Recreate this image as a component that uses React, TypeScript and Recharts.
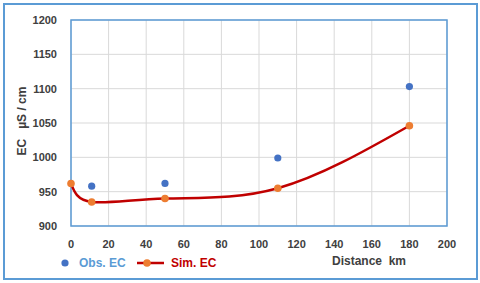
import React from "react";
import {
  ComposedChart,
  Line,
  Scatter,
  XAxis,
  YAxis,
  CartesianGrid,
  ReferenceArea,
  Label,
} from "recharts";

// observed EC (points only)
const obsDistance = [11, 50, 110, 180];
const obsEC = [958, 962, 999, 1103];

// simulated EC (smoothed line + markers)
const simDistance = [0, 11, 50, 110, 180];
const simEC = [962, 935, 940, 955, 1046];

const xTicks = [0, 20, 40, 60, 80, 100, 120, 140, 160, 180, 200];
const yTicks = [900, 950, 1000, 1050, 1100, 1150, 1200];

const FONT = "'Liberation Sans Narrow', 'Liberation Sans', Arial, sans-serif";
const BLUE_BORDER = "#5b9bd5";
const NB = "\u00a0";

const obsData = obsDistance.map((x, i) => ({ x, y: obsEC[i] }));
const simData = simDistance.map((x, i) => ({ x, y: simEC[i] }));

const tickStyle = { fontSize: 11, fontWeight: 700, fill: "#404040", fontFamily: FONT };

const ObsDot = (props: any) => (
  <circle cx={props.cx} cy={props.cy} r={3.6} fill="#4472c4" />
);

export default function App() {
  return (
    <div
      style={{
        position: "fixed",
        left: 0,
        top: 0,
        width: 480,
        height: 283,
        background: "#fff",
        fontFamily: FONT,
      }}
    >
      {/* outer frame */}
      <div
        style={{
          position: "absolute",
          left: 3,
          top: 3,
          width: 471,
          height: 273,
          border: `2px solid ${BLUE_BORDER}`,
        }}
      />

      <ComposedChart
        width={480}
        height={283}
        margin={{ top: 20, right: 33, bottom: 12, left: 21 }}
        style={{ position: "absolute", left: 0, top: 0 }}
      >
        <CartesianGrid stroke="#d9d9d9" strokeWidth={1} />
        <XAxis
          type="number"
          dataKey="x"
          domain={[0, 200]}
          ticks={xTicks}
          axisLine={false}
          tickLine={false}
          tick={tickStyle}
          tickMargin={8}
          height={45}
          allowDuplicatedCategory={false}
        >
          <Label
            value={`Distance${NB}${NB}km`}
            position="insideBottom"
            dx={110}
            offset={6}
            style={{ fontSize: 12, fontWeight: 700, fill: "#404040", fontFamily: FONT }}
          />
        </XAxis>
        <YAxis
          type="number"
          dataKey="y"
          domain={[900, 1200]}
          ticks={yTicks}
          axisLine={false}
          tickLine={false}
          tick={tickStyle}
          tickMargin={8}
          width={50}
        >
          <Label
            value={`EC${NB}${NB}${NB}µS${NB}/${NB}cm`}
            angle={-90}
            position="insideLeft"
            dx={-4}
            dy={-2}
            style={{
              fontSize: 12,
              fontWeight: 700,
              fill: "#404040",
              fontFamily: FONT,
              textAnchor: "middle",
            }}
          />
        </YAxis>
        <ReferenceArea
          x1={0}
          x2={200}
          y1={900}
          y2={1200}
          fill="none"
          stroke={BLUE_BORDER}
          strokeWidth={1.5}
          ifOverflow="visible"
        />
        <Line
          data={simData}
          dataKey="y"
          type="natural"
          stroke="#c00000"
          strokeWidth={2.5}
          dot={{ r: 3.8, fill: "#ed7d31", stroke: "#ed7d31", strokeWidth: 0 }}
          isAnimationActive={false}
        />
        <Scatter
          data={obsData}
          dataKey="y"
          fill="#4472c4"
          shape={ObsDot}
          isAnimationActive={false}
        />
      </ComposedChart>

      {/* legend */}
      <svg
        width={480}
        height={30}
        style={{ position: "absolute", left: 0, top: 250 }}
      >
        <circle cx={65} cy={13} r={3.6} fill="#4472c4" />
        <text
          x={79}
          y={17}
          fontSize={12}
          fontWeight={700}
          fill="#5b9bd5"
          fontFamily={FONT}
        >
          Obs. EC
        </text>
        <line x1={137} y1={13} x2={164} y2={13} stroke="#c00000" strokeWidth={2.5} />
        <circle cx={147} cy={13} r={3.8} fill="#ed7d31" />
        <text
          x={171}
          y={17}
          fontSize={12}
          fontWeight={700}
          fill="#c00000"
          fontFamily={FONT}
        >
          Sim. EC
        </text>
      </svg>
    </div>
  );
}
